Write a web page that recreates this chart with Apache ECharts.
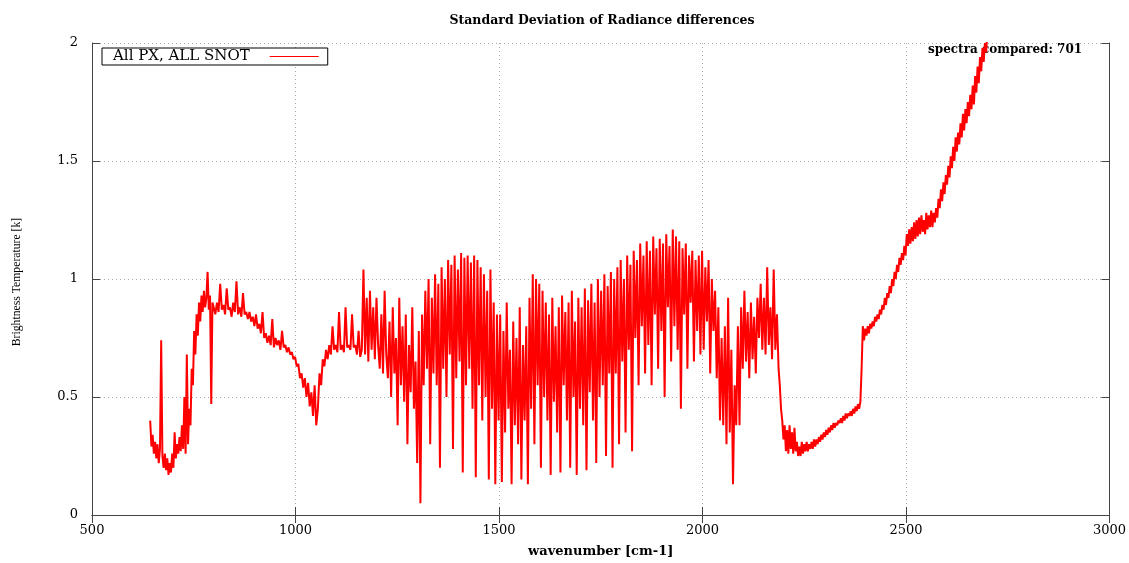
<!DOCTYPE html>
<html>
<head>
<meta charset="utf-8">
<script src="https://cdn.jsdelivr.net/npm/echarts/dist/echarts.min.js"></script>
<style>
html,body{margin:0;padding:0;background:#fff;}
#chart{width:1129px;height:563px;}
</style>
</head>
<body>
<div id="chart"></div>
<script>
// ---- data (wavenumber start, step) ----
const xTicks = [500, 1000, 1500, 2000, 2500, 3000];
const yTicks = [0, 0.5, 1, 1.5, 2];
const seriesName = "All PX, ALL SNOT";
const spectraCompared = 701;

// 643..796 step 3
const seg643 = [0.40,0.29,0.34,0.26,0.31,0.24,0.30,0.22,0.28,0.74,
  0.25,0.20,0.26,0.19,0.24,0.17,0.22,0.18,0.26,0.20,
  0.35,0.24,0.30,0.26,0.33,0.27,0.38,0.28,0.50,0.26,
  0.68,0.30,0.45,0.38,0.62,0.55,0.78,0.68,0.85,0.76,
  0.90,0.82,0.93,0.86,0.95,0.88,0.92,1.03,0.87,0.93,
  0.47,0.90];
// 799..1227 step 4
const seg799 = [0.88,0.85,0.90,0.86,0.98,0.87,0.89,0.85,0.96,0.87,
  0.88,0.84,0.90,0.86,0.99,0.85,0.88,0.84,0.94,0.85,
  0.86,0.83,0.86,0.82,0.84,0.80,0.85,0.79,0.81,0.77,
  0.86,0.75,0.77,0.73,0.76,0.72,0.83,0.71,0.75,0.72,
  0.74,0.70,0.78,0.71,0.72,0.69,0.71,0.68,0.69,0.66,
  0.67,0.63,0.64,0.58,0.60,0.54,0.58,0.50,0.56,0.46,
  0.52,0.42,0.55,0.38,0.45,0.60,0.55,0.66,0.63,0.70,
  0.66,0.72,0.68,0.80,0.70,0.72,0.69,0.86,0.70,0.72,
  0.69,0.88,0.71,0.72,0.70,0.85,0.71,0.72,0.68,0.78,
  0.67,0.70,1.04,0.68,0.92,0.65,0.95,0.70,0.88,0.66,
  0.92,0.72,0.62,0.85,0.60,0.95,0.68,0.58];
// noisy band, step 4
const seg1231 = [0.82,0.50,0.88,0.60,0.75,0.38,0.92,0.55,0.80,0.48,
  0.85,0.30,0.72,0.52,0.88,0.45,0.65,0.22,0.78,0.05];
const seg1311 = [0.85,0.55,0.95,0.62,1.00,0.30,0.92,0.60,1.02,0.55,
  0.98,0.20,1.05,0.62,1.00,0.50,1.08,0.68,1.06,0.28,
  1.10,0.58,1.04,0.65,1.11,0.18,1.09,0.55,1.10,0.62,
  1.07,0.45,1.10,0.16,1.08,0.55,1.05,0.40,1.02,0.50,
  0.95,0.15,1.04,0.45,0.90,0.13,0.85];
const seg1499 = [0.40,0.85,0.14,0.78,0.35,0.90,0.45,0.70,0.13,0.82,
  0.38,0.75,0.30,0.88,0.15,0.72,0.40,0.80,0.13,0.92,
  0.45,1.02];
const seg1587 = [0.30,1.00,0.55,0.98,0.20,0.95,0.50,0.90,0.40,0.85,
  0.17,0.92,0.48,0.80,0.35,0.88,0.18,0.93,0.55,0.86,
  0.40,0.90,0.20,0.95,0.50,0.82,0.17,0.92,0.45,0.88,
  0.38,0.96,0.19,0.91,0.52,0.98,0.40,0.90,0.22,1.00,
  0.50,0.95,0.55,1.02,0.25,0.97,0.60,1.03,0.20,1.00];
const seg1787 = [0.60,1.05,0.30,1.08,0.65,1.00,0.35,1.10,0.70,1.06,
  0.27,1.12,0.75,1.08,0.55,1.15,0.80,1.10,0.60,1.16,
  0.72,1.12,0.55,1.18,0.85,1.13,0.62,1.17,0.78,1.15,
  0.50,1.19,0.88,1.14,0.65,1.21,0.80,1.18,0.70,1.16,
  0.45,1.13,0.85,1.15,0.62,1.10,0.90,1.12,0.65,1.08,
  0.78,1.10,0.68];
const seg1999 = [1.12,0.70,1.05,0.82,1.08,0.60,1.00,0.78,0.95,0.58,
  0.88,0.40,0.75];
const seg2051 = [0.38,0.80,0.30,0.92,0.35,0.70,0.13,0.55,0.38];
const seg2087 = [0.80,0.38,0.88,0.62,0.95,0.65,0.86,0.58,0.90,0.66,
  0.84,0.60,0.92];
const seg2139 = [0.75,0.98,0.70,0.92,0.68,1.05,0.72,0.88,0.66,1.04,
  0.70,0.85,0.62];
// 2190..2394 step 3
const seg2190 = [0.55,0.45,0.40,0.32,0.38,0.27,0.36,0.26,0.38,0.28,
  0.35,0.26,0.37,0.27,0.31,0.25,0.29,0.25,0.31,0.26,
  0.30,0.27,0.31,0.27,0.30,0.28,0.31,0.28,0.32,0.29,
  0.32,0.30,0.33,0.31,0.34,0.32,0.35,0.33,0.36,0.34,
  0.37,0.35,0.38,0.36,0.39,0.37,0.39,0.38,0.40,0.39,
  0.41,0.39,0.42,0.40,0.43,0.41,0.43,0.42,0.44,0.42,
  0.45,0.43,0.46,0.44,0.47,0.45,0.48,0.62,0.80];
// 2397..2703 step 3
const seg2397 = [0.74,0.79,0.76,0.80,0.77,0.81,0.79,0.82,0.80,0.84,
  0.82,0.85,0.83,0.87,0.85,0.89,0.87,0.92,0.89,0.94,
  0.92,0.97,0.94,1.00,0.97,1.03,1.00,1.06,1.03,1.09,
  1.06,1.11,1.08,1.14,1.10,1.19,1.14,1.21,1.15,1.22,
  1.16,1.24,1.17,1.25,1.18,1.26,1.19,1.27,1.20,1.25,
  1.19,1.28,1.21,1.27,1.22,1.29,1.22,1.28,1.24,1.30,
  1.26,1.34,1.30,1.38,1.33,1.41,1.36,1.44,1.40,1.48,
  1.43,1.52,1.47,1.56,1.50,1.60,1.54,1.62,1.57,1.66,
  1.60,1.70,1.63,1.72,1.66,1.75,1.69,1.78,1.72,1.82,
  1.74,1.86,1.79,1.90,1.83,1.94,1.88,1.98,1.92,2.00,
  1.96,2.05,2.08];

const segments = [
  [643, 3, seg643], [799, 4, seg799], [1231, 4, seg1231], [1311, 4, seg1311],
  [1499, 4, seg1499], [1587, 4, seg1587], [1787, 4, seg1787], [1999, 4, seg1999],
  [2051, 4, seg2051], [2087, 4, seg2087], [2139, 4, seg2139], [2190, 3, seg2190],
  [2397, 3, seg2397]
];
const points = [];
segments.forEach(([start, step, vals]) => {
  vals.forEach((v, i) => points.push([start + i * step, v]));
});

// ---- chart ----
const FONT = "'DejaVu Serif', 'Liberation Serif', serif";
const chart = echarts.init(document.getElementById('chart'), null, {renderer: 'canvas'});
const axisCol = '#444';
const gridLine = {show: true, lineStyle: {color: '#aaa', type: [1, 3], width: 1}};
chart.setOption({
  animation: false,
  backgroundColor: '#fff',
  title: {
    text: 'Standard Deviation of Radiance differences',
    left: 597, top: 9, textAlign: 'center',
    textStyle: {fontFamily: FONT, fontSize: 12.5, fontWeight: 'bold', color: '#000'}
  },
  grid: {left: 92, top: 43, right: 19, bottom: 42, show: false},
  legend: {
    left: 102, top: 48,
    align: 'right',
    orient: 'horizontal',
    icon: 'rect',
    itemWidth: 49, itemHeight: 1,
    padding: [1, 9, 1, 11],
    borderColor: '#000', borderWidth: 1,
    backgroundColor: '#fff',
    textStyle: {fontFamily: FONT, fontSize: 15, color: '#000', lineHeight: 13, padding: [0, 15, 0, 0]},
    data: [seriesName]
  },
  graphic: [{
    type: 'text', left: 928, top: 44, z: 0,
    style: {text: 'spectra compared: ' + spectraCompared, font: "bold 12px 'DejaVu Serif', serif", fill: '#000'}
  }, {
    type: 'text', x: 17, y: 282, rotation: Math.PI / 2, scaleX: 0.9, z: 0,
    style: {text: 'Brightness Temperature [k]', font: "13px 'Liberation Serif', serif", fill: '#000',
      align: 'center', verticalAlign: 'middle'}
  }],
  xAxis: [{
    type: 'value', min: xTicks[0], max: xTicks[xTicks.length - 1], interval: 500,
    position: 'bottom',
    name: 'wavenumber [cm-1]', nameLocation: 'middle', nameGap: 30,
    nameTextStyle: {fontFamily: FONT, fontSize: 13, fontWeight: 'bold', color: '#000'},
    axisLine: {show: true, lineStyle: {color: axisCol, width: 1}},
    axisTick: {show: true, inside: true, length: 8, lineStyle: {color: axisCol}},
    axisLabel: {fontFamily: FONT, fontSize: 13, color: '#000', margin: 9, formatter: v => String(v)},
    splitLine: gridLine
  }, {
    type: 'value', min: xTicks[0], max: xTicks[xTicks.length - 1], interval: 500,
    position: 'top',
    axisLine: {show: true, lineStyle: {color: axisCol, width: 1}},
    axisTick: {show: true, inside: true, length: 8, lineStyle: {color: axisCol}},
    axisLabel: {show: false}, splitLine: {show: false}
  }],
  yAxis: [{
    type: 'value', min: yTicks[0], max: yTicks[yTicks.length - 1], interval: 0.5,
    position: 'left',
    axisLine: {show: true, lineStyle: {color: axisCol, width: 1}},
    axisTick: {show: true, inside: true, length: 8, lineStyle: {color: axisCol}},
    axisLabel: {fontFamily: FONT, fontSize: 13, color: '#000', margin: 14, formatter: v => String(v)},
    splitLine: gridLine
  }, {
    type: 'value', min: yTicks[0], max: yTicks[yTicks.length - 1], interval: 0.5,
    position: 'right',
    axisLine: {show: true, lineStyle: {color: axisCol, width: 1}},
    axisTick: {show: true, inside: true, length: 8, lineStyle: {color: axisCol}},
    axisLabel: {show: false}, splitLine: {show: false}
  }],
  series: [{
    name: seriesName,
    type: 'line',
    xAxisIndex: 0, yAxisIndex: 0,
    data: points,
    showSymbol: false, symbol: 'none',
    clip: true,
    z: 3,
    lineStyle: {color: '#ff0000', width: 2},
    itemStyle: {color: '#ff0000'}
  }]
});
</script>
</body>
</html>
